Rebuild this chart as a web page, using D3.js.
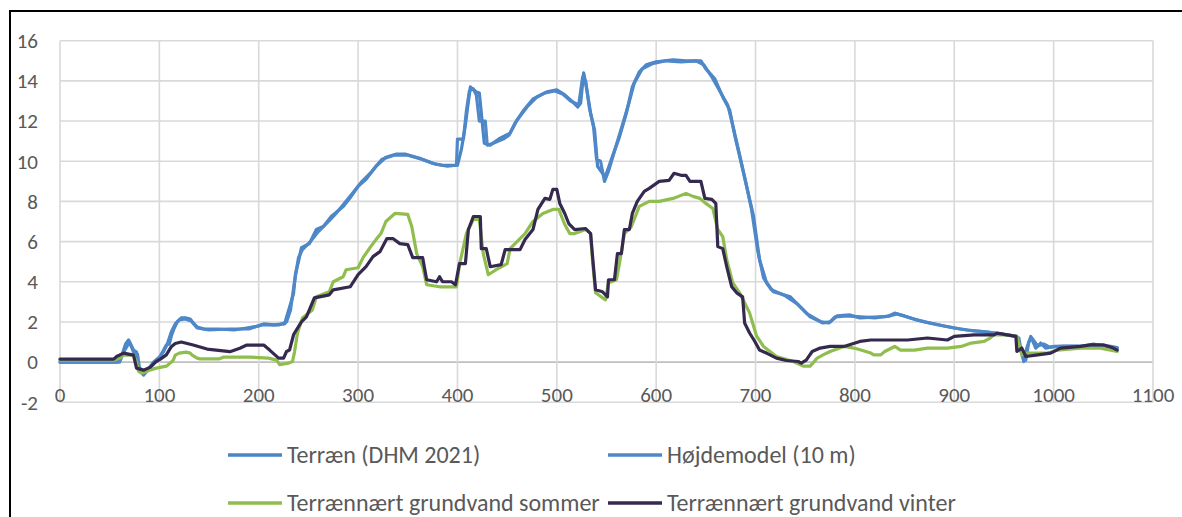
<!DOCTYPE html>
<html>
<head>
<meta charset="utf-8">
<script src="https://cdn.jsdelivr.net/npm/d3@7"></script>
<style>
  body { margin: 0; background: #fff; }
  svg { display: block; font-family: Carlito, Calibri, Lato, sans-serif; }
</style>
</head>
<body>
<svg width="1182" height="517"></svg>
<script>
// tick values
const xTicks = [0, 100, 200, 300, 400, 500, 600, 700, 800, 900, 1000, 1100];
const yTicks = [-2, 0, 2, 4, 6, 8, 10, 12, 14, 16];

// series names
const seriesNames = ["Terræn (DHM 2021)", "Højdemodel (10 m)", "Terrænnært grundvand sommer", "Terrænnært grundvand vinter"];

// [distance, level]
const terraen = [[0,0],[57,0],[62,0.3],[66,0.9],[69,1.1],[72,0.8],[74,0.6],[77,0.5],[79,-0.3],[84,-0.65],[88,-0.4],[94,0],[101,0.3],[107,0.85],[110,0.9],[112,1.3],[115,1.7],[118,2.0],[122,2.2],[127,2.2],[131,2.15],[135,1.9],[138,1.75],[145,1.65],[160,1.65],[175,1.6],[188,1.7],[200,1.8],[205,1.9],[215,1.85],[226,1.9],[229,2.4],[232,2.9],[235,3.4],[237,4.4],[240,5.0],[243,5.7],[251,5.9],[258,6.6],[265,6.75],[273,7.25],[285,7.75],[293,8.25],[300,8.75],[308,9.1],[318,9.75],[328,10.2],[338,10.35],[348,10.35],[362,10.15],[375,9.9],[385,9.8],[400,9.8],[404,10.6],[408,11.8],[410,12.6],[413,13.7],[419,13.45],[422,13.4],[427,10.9],[433,10.8],[443,11.15],[453,11.4],[460,12.05],[470,12.7],[480,13.2],[490,13.45],[500,13.55],[508,13.3],[516,12.95],[521,12.7],[524,12.9],[527,14.4],[529,13.9],[534,12.4],[538,11.55],[541,9.75],[546,9.4],[549,9.25],[556,10.25],[563,11.2],[570,12.4],[576,13.7],[583,14.45],[590,14.8],[600,14.95],[617,15.05],[630,15.0],[645,15.0],[650,14.6],[659,14.1],[667,13.2],[674,12.55],[679,11.3],[684,10.25],[691,8.75],[698,7.25],[704,5.1],[711,3.95],[718,3.5],[735,3.25],[745,2.75],[755,2.25],[768,1.95],[775,2.0],[782,2.3],[795,2.35],[805,2.2],[819,2.24],[833,2.27],[840,2.44],[846,2.35],[856,2.2],[870,2.0],[883,1.86],[900,1.7],[913,1.6],[927,1.53],[940,1.44],[953,1.36],[963,1.28],[967,0.6],[970,0.03],[973,0.7],[977,1.28],[982,0.7],[987,0.95],[992,0.7],[1000,0.78],[1027,0.78],[1040,0.9],[1054,0.78],[1064,0.7]];

const hoejdemodel = [[0,0],[60,0],[64,0.5],[70,1.0],[74,0.5],[78,0.4],[80,-0.3],[86,-0.5],[92,-0.2],[98,0.1],[104,0.5],[108,0.9],[112,1.5],[116,1.9],[120,2.1],[126,2.15],[132,2.05],[138,1.7],[150,1.6],[170,1.65],[190,1.65],[202,1.85],[220,1.85],[228,2.0],[232,2.6],[236,4.0],[240,5.2],[244,5.6],[252,6.0],[260,6.5],[268,6.9],[276,7.3],[286,7.9],[296,8.5],[304,9.0],[314,9.5],[324,10.1],[336,10.3],[350,10.3],[364,10.1],[378,9.85],[390,9.75],[399,9.8],[400,11.1],[406,11.1],[409,12.5],[412,13.5],[416,13.6],[419,13.3],[422,12.0],[428,12.0],[430,10.8],[436,10.9],[446,11.1],[452,11.3],[458,11.9],[466,12.5],[476,13.1],[488,13.4],[498,13.5],[506,13.35],[514,13.0],[522,12.8],[526,14.2],[529,14.0],[533,12.6],[537,11.7],[540,10.1],[544,10.0],[548,9.0],[552,9.5],[558,10.5],[566,11.8],[572,12.8],[578,13.9],[586,14.6],[596,14.85],[610,15.0],[625,14.95],[640,15.0],[648,14.8],[656,14.2],[664,13.5],[672,12.8],[678,11.6],[684,10.3],[690,9.0],[696,7.6],[702,5.6],[708,4.2],[716,3.6],[730,3.3],[742,2.9],[752,2.4],[766,2.0],[774,1.95],[780,2.25],[792,2.3],[806,2.25],[820,2.2],[835,2.3],[842,2.4],[850,2.3],[862,2.1],[876,1.95],[890,1.8],[906,1.65],[920,1.55],[934,1.5],[948,1.4],[960,1.3],[965,1.2],[968,0.4],[972,0.1],[975,1.0],[978,1.2],[984,0.8],[990,0.9],[996,0.75],[1010,0.8],[1030,0.8],[1042,0.85],[1056,0.8],[1064,0.72]];

const sommer = [[0,0.1],[55,0.1],[60,0.2],[64,0.35],[74,0.35],[77,0.0],[79,-0.45],[82,-0.55],[90,-0.4],[97,-0.3],[107,-0.2],[112,0.0],[114,0.1],[116,0.35],[120,0.45],[127,0.5],[131,0.45],[133,0.35],[138,0.2],[141,0.16],[160,0.16],[165,0.25],[190,0.25],[210,0.2],[218,0.1],[221,-0.13],[230,-0.05],[234,0.03],[236,0.5],[239,1.45],[244,2.2],[254,2.6],[258,3.25],[271,3.5],[275,4.0],[285,4.25],[288,4.6],[300,4.7],[305,5.2],[312,5.7],[318,6.1],[323,6.4],[328,7.0],[337,7.4],[350,7.35],[354,6.75],[359,5.4],[365,4.75],[369,3.85],[382,3.75],[399,3.75],[402,4.85],[409,6.4],[416,7.1],[422,7.1],[426,5.4],[431,4.35],[439,4.6],[450,4.9],[453,5.65],[460,6.0],[468,6.4],[476,7.0],[486,7.4],[496,7.6],[502,7.6],[508,6.85],[513,6.4],[518,6.4],[529,6.6],[534,6.4],[536,5.0],[539,3.45],[549,3.1],[552,3.95],[560,4.1],[563,4.9],[568,6.4],[575,6.75],[583,7.75],[593,8.0],[603,8.0],[617,8.15],[630,8.4],[637,8.25],[644,8.15],[650,7.9],[657,7.65],[662,6.6],[667,6.25],[671,5.1],[677,3.95],[684,3.45],[694,2.45],[701,1.3],[708,0.78],[721,0.28],[738,0.03],[748,-0.2],[755,-0.2],[762,0.2],[768,0.36],[775,0.53],[789,0.78],[799,0.7],[806,0.6],[816,0.45],[819,0.36],[826,0.36],[830,0.53],[840,0.78],[846,0.6],[860,0.6],[873,0.7],[893,0.7],[907,0.78],[917,0.95],[930,1.03],[936,1.2],[940,1.36],[953,1.36],[963,1.28],[968,0.36],[973,0.45],[994,0.45],[1004,0.6],[1027,0.7],[1047,0.7],[1064,0.53]];

const vinter = [[0,0.15],[54,0.15],[57,0.28],[64,0.45],[74,0.35],[77,-0.3],[84,-0.4],[91,-0.25],[96,0],[101,0.15],[107,0.36],[112,0.77],[116,0.93],[122,1.0],[134,0.85],[148,0.65],[171,0.52],[181,0.69],[188,0.85],[205,0.85],[211,0.6],[220,0.2],[225,0.2],[228,0.53],[231,0.6],[235,1.35],[236,1.45],[243,2.0],[248,2.25],[256,3.2],[271,3.35],[275,3.6],[292,3.75],[300,4.35],[308,4.75],[315,5.25],[322,5.5],[329,6.15],[335,6.15],[342,5.9],[350,5.85],[355,5.2],[365,5.2],[369,4.1],[379,4.0],[382,4.25],[385,4.0],[394,4.0],[398,3.85],[402,4.9],[408,4.9],[411,6.6],[416,7.25],[423,7.25],[424,5.65],[429,5.65],[433,4.75],[444,4.85],[448,5.6],[463,5.6],[468,6.1],[476,6.6],[481,7.6],[488,8.15],[493,8.1],[496,8.6],[500,8.6],[503,7.9],[508,7.4],[512,6.9],[518,6.6],[529,6.65],[534,6.4],[536,5.25],[539,3.6],[546,3.5],[551,3.25],[552,4.1],[558,4.1],[561,5.4],[565,5.4],[568,6.6],[573,6.6],[576,7.4],[581,8.0],[588,8.5],[593,8.65],[603,9.0],[613,9.05],[618,9.4],[625,9.3],[630,9.3],[634,9.0],[645,9.0],[649,8.15],[656,8.1],[660,7.9],[662,5.75],[667,5.65],[671,4.75],[676,3.75],[681,3.45],[687,3.25],[689,1.95],[694,1.45],[699,1.05],[704,0.6],[711,0.45],[721,0.2],[731,0.08],[743,0.03],[746,-0.05],[751,0.1],[757,0.53],[765,0.7],[775,0.78],[789,0.78],[805,1.03],[816,1.1],[853,1.1],[873,1.2],[893,1.1],[900,1.28],[920,1.36],[940,1.36],[943,1.44],[962,1.28],[963,0.53],[968,0.7],[972,0.28],[984,0.36],[997,0.45],[1007,0.7],[1027,0.78],[1037,0.86],[1050,0.86],[1060,0.7],[1064,0.6]];

const seriesData = [terraen, hoejdemodel, sommer, vinter];
const colors = ["#4a85c6", "#4f88c8", "#8fbd4e", "#35294f"];

const svg = d3.select("svg");
const textColor = "#595959";

// plot area
const x = d3.scaleLinear().domain([0, 1100]).range([60, 1153]);
const y = d3.scaleLinear().domain([-2, 16]).range([402.3, 40.7]);

// outer frame (top and left edges visible)
svg.append("path")
    .attr("d", "M10,517 V11 H1182")
    .attr("fill", "none")
    .attr("stroke", "#000")
    .attr("stroke-width", 2);

// gridlines
svg.append("g").selectAll("line")
    .data(yTicks)
    .enter().append("line")
    .attr("x1", x(0)).attr("x2", x(1100))
    .attr("y1", d => y(d)).attr("y2", d => y(d))
    .attr("stroke", d => d === 0 ? "#bfbfbf" : "#d9d9d9")
    .attr("stroke-width", 1.6);

svg.append("g").selectAll("line")
    .data(xTicks)
    .enter().append("line")
    .attr("x1", d => x(d)).attr("x2", d => x(d))
    .attr("y1", y(16)).attr("y2", y(-2))
    .attr("stroke", "#d9d9d9")
    .attr("stroke-width", 1.6);

// y labels
svg.append("g").selectAll("text")
    .data(yTicks)
    .enter().append("text")
    .attr("x", 38)
    .attr("y", d => y(d))
    .attr("dy", "0.35em")
    .attr("text-anchor", "end")
    .attr("fill", textColor)
    .style("font-size", "21px")
    .text(d => d);

// x labels (sit just above the -2 line, like the original)
svg.append("g").selectAll("text")
    .data(xTicks)
    .enter().append("text")
    .attr("x", d => x(d))
    .attr("y", 395)
    .attr("dy", "0.35em")
    .attr("text-anchor", "middle")
    .attr("fill", textColor)
    .style("font-size", "21px")
    .text(d => d);

// lines
const line = d3.line()
    .x(d => x(d[0]))
    .y(d => y(d[1]));

svg.append("g").selectAll("path")
    .data(seriesData)
    .enter().append("path")
    .attr("d", line)
    .attr("fill", "none")
    .attr("stroke", (d, i) => colors[i])
    .attr("stroke-width", 3.2)
    .attr("stroke-linejoin", "round")
    .attr("stroke-linecap", "round");

// legend, 2 x 2
const legendX = [228, 608];
const legendY = [455, 503];
const legend = svg.append("g").selectAll("g")
    .data(seriesNames)
    .enter().append("g")
    .attr("transform", (d, i) => `translate(${legendX[i % 2]},${legendY[Math.floor(i / 2)]})`);

legend.append("line")
    .attr("x1", 0).attr("x2", 54)
    .attr("stroke", (d, i) => colors[i])
    .attr("stroke-width", 3.3);

legend.append("text")
    .attr("x", 59)
    .attr("dy", "0.35em")
    .attr("fill", textColor)
    .style("font-size", "24px")
    .text(d => d);
</script>
</body>
</html>
